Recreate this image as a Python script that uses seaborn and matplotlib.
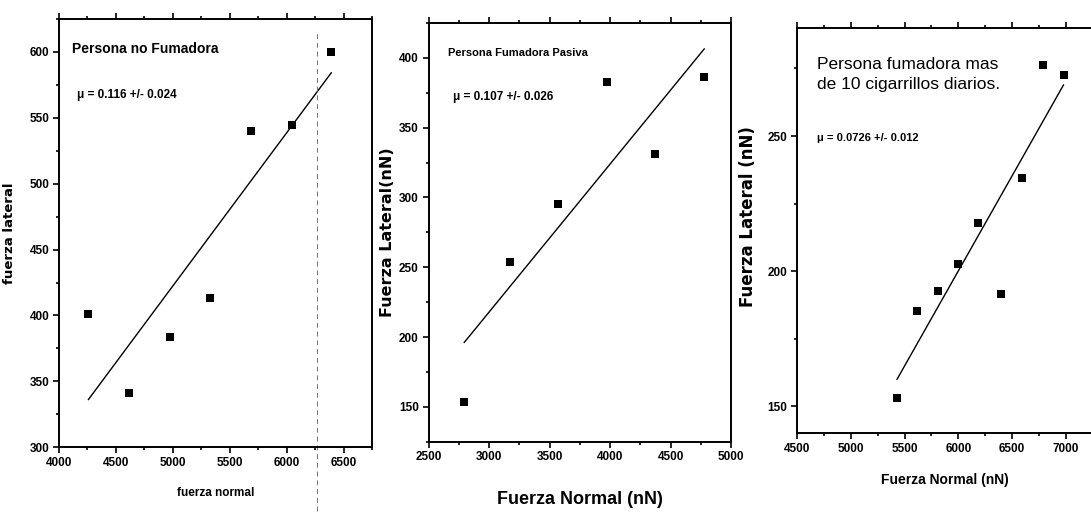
import numpy as np
import pandas as pd
import seaborn as sns
import matplotlib.pyplot as plt
from matplotlib.ticker import MultipleLocator

sns.set_style("white")
plt.rcParams['font.family'] = ['Liberation Sans', 'DejaVu Sans']
plt.rcParams.update({'text.color': 'black', 'axes.labelcolor': 'black',
                     'xtick.color': 'black', 'ytick.color': 'black'})

# ---------- data ----------
no_fum_normal = [4257, 4617, 4971, 5325, 5690, 6044, 6392]
no_fum_lateral = [401, 341, 384, 413.5, 540, 544.5, 600]

pasiva_normal = [2794, 3173, 3571, 3975, 4373, 4779]
pasiva_lateral = [153.6, 253.6, 295, 382.6, 331, 386]

fum_normal = [5429, 5615, 5807, 5996, 6182, 6399, 6594, 6786, 6978]
fum_lateral = [153.1, 185.3, 192.7, 202.5, 218, 191.5, 234.6, 276.4, 272.7]

titles = ["Persona no Fumadora", "Persona Fumadora Pasiva",
          "Persona fumadora mas\nde 10 cigarrillos diarios."]
mu_labels = [u"\u03bc = 0.116 +/- 0.024", u"\u03bc = 0.107 +/- 0.026",
             u"\u03bc = 0.0726 +/- 0.012"]
xlabels = ["fuerza normal", "Fuerza Normal (nN)", "Fuerza Normal (nN)"]
ylabels = ["fuerza lateral", "Fuerza Lateral(nN)", "Fuerza Lateral (nN)"]


# ---------- helpers ----------
def style_axes(ax, xlim, ylim, xmajor, ymajor):
    ax.set_xlim(*xlim)
    ax.set_ylim(*ylim)
    ax.xaxis.set_major_locator(MultipleLocator(xmajor))
    ax.xaxis.set_minor_locator(MultipleLocator(xmajor / 2))
    ax.yaxis.set_major_locator(MultipleLocator(ymajor))
    ax.yaxis.set_minor_locator(MultipleLocator(ymajor / 2))
    ax.tick_params(which='both', direction='out', top=True, right=False,
                   bottom=True, left=True, color='black', width=1.2)
    ax.tick_params(which='major', length=4, labelsize=8.5, pad=3)
    ax.tick_params(which='minor', length=2.5)
    for lab in ax.get_xticklabels() + ax.get_yticklabels():
        lab.set_fontweight('bold')
    for sp in ax.spines.values():
        sp.set_visible(True)
        sp.set_color('black')
        sp.set_linewidth(1.4)


def draw_panel(ax, x, y):
    df = pd.DataFrame({"normal": x, "lateral": y})
    sns.regplot(data=df, x="normal", y="lateral", ax=ax, ci=None,
                marker='s', color='black',
                scatter_kws=dict(s=26, linewidths=0, alpha=1),
                line_kws=dict(lw=1.0))


def place_labels(ax, xl, yl, xpos, ypos):
    ax.set_xlabel(xl["text"], fontsize=xl["size"], fontweight='bold')
    ax.set_ylabel(yl["text"], fontsize=yl["size"], fontweight='bold',
                  family=['DejaVu Sans'])
    ax.xaxis.set_label_coords(*xpos)
    ax.yaxis.set_label_coords(*ypos)
    ax.xaxis.label.set_va('center')
    ax.yaxis.label.set_va('center')


fig = plt.figure(figsize=(10.91, 5.14), dpi=100)

# ---------- panel 1 ----------
ax1 = fig.add_axes([0.0541, 0.130, 0.2870, 0.833])
draw_panel(ax1, no_fum_normal, no_fum_lateral)
style_axes(ax1, (4000, 6750), (300, 625), 500, 50)
ax1.axvline(6265, ymin=-0.15, ymax=0.97, ls=(0, (5, 4)), color='0.45',
            lw=0.7, clip_on=False)
ax1.text(0.04, 0.93, titles[0], transform=ax1.transAxes, fontsize=10,
         fontweight='bold', va='center')
ax1.text(0.058, 0.822, mu_labels[0], transform=ax1.transAxes, fontsize=8.5,
         fontweight='bold', va='center')
place_labels(ax1, dict(text=xlabels[0], size=8.5), dict(text=ylabels[0], size=9.5),
             (0.5, -0.107), (-0.157, 0.5))

# ---------- panel 2 ----------
ax2 = fig.add_axes([0.3928, 0.1407, 0.2773, 0.8146])
draw_panel(ax2, pasiva_normal, pasiva_lateral)
style_axes(ax2, (2500, 5000), (125, 425), 500, 50)
ax2.text(0.064, 0.928, titles[1], transform=ax2.transAxes, fontsize=8,
         fontweight='bold', va='center')
ax2.text(0.081, 0.823, mu_labels[1], transform=ax2.transAxes, fontsize=8.5,
         fontweight='bold', va='center')
place_labels(ax2, dict(text=xlabels[1], size=13), dict(text=ylabels[1], size=11.5),
             (0.5, -0.139), (-0.137, 0.5))

# ---------- panel 3 (cut at the right edge, as in the scan) ----------
ax3 = fig.add_axes([0.7305, 0.157, 0.2712, 0.7886])
draw_panel(ax3, fum_normal, fum_lateral)
style_axes(ax3, (4500, 7250), (140, 290), 500, 50)
ax3.yaxis.set_minor_locator(MultipleLocator(25))
ax3.text(0.068, 0.885, titles[2], transform=ax3.transAxes, fontsize=12.5,
         va='center', linespacing=1.45)
ax3.text(0.068, 0.729, mu_labels[2], transform=ax3.transAxes, fontsize=8,
         fontweight='bold', va='center')
place_labels(ax3, dict(text=xlabels[2], size=10), dict(text=ylabels[2], size=12),
             (0.5, -0.115), (-0.166, 0.534))

fig.savefig("out.png", dpi=100)
